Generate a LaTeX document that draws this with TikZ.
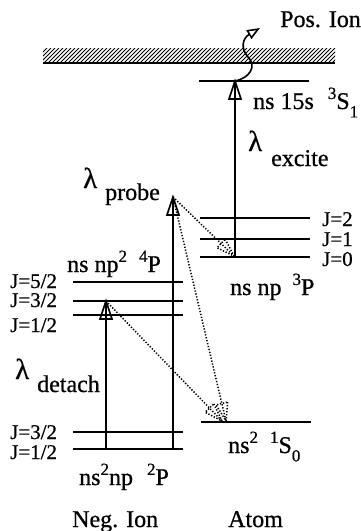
\documentclass[tikz,border=0pt]{standalone}
\usepackage{fontspec}
\setmainfont{Liberation Serif}
\newfontfamily\hv{Liberation Serif}[FakeBold=0.7]
\usetikzlibrary{calc,arrows.meta}
\newcommand\fsz{\hv\fontsize{24}{28}\selectfont}
\newcommand\jsz{\hv\fontsize{21}{24}\selectfont}
\newcommand\lamfont{\hv\fontsize{29}{30}\selectfont}
\newcommand\sups[1]{\raisebox{0.42em}{\fontsize{17}{17}\selectfont #1}}
\newcommand\subs[1]{\raisebox{-0.35em}{\fontsize{17}{17}\selectfont #1}}
\newcommand\opentri[3][]{\draw[#1] ($(#3)!18pt!(#2)!6pt!90:(#3)$) -- (#3) -- ($(#3)!18pt!(#2)!6pt!-90:(#3)$) -- cycle;}
\begin{document}
\begin{tikzpicture}[x=1pt,y=-1pt,
  level/.style={line width=1.7pt},
  trans/.style={line width=1.6pt},
  dots/.style={line width=1.5pt, dash pattern=on 1.3pt off 1.7pt},
  lbl/.style={anchor=base west, inner sep=0pt, font=\fsz},
  jl/.style={anchor=base west, inner sep=0pt, font=\jsz},
  lam/.style={anchor=base west, inner sep=0pt, font=\lamfont}]
\useasboundingbox (0,0) rectangle (361,531);

% continuum (hatched)
\begin{scope}
  \clip (43,48) rectangle (335,63);
  \foreach \i in {0,4,...,320} \draw[line width=0.9pt] (28+\i,63) -- (43+\i,48);
\end{scope}
\draw[line width=2.2pt] (43,63) -- (335,63);

% atom levels
\draw[level] (199,81) -- (309,81);
\draw[level] (200,218) -- (310,218);
\draw[level] (200,239) -- (310,239);
\draw[level] (200,257) -- (310,257);
\draw[level] (201,422) -- (311,422);

% negative ion levels
\draw[level] (73,282) -- (183,282);
\draw[level] (73,301) -- (183,301);
\draw[level] (73,315) -- (183,315);
\draw[level] (73,432) -- (183,432);
\draw[level] (73,449) -- (183,449);

% coordinates of transitions
\coordinate (exB) at (235,257);
\coordinate (exT) at (235,81);
\coordinate (wv)  at (260,28);
\coordinate (prB) at (173,449);
\coordinate (prT) at (173,197);
\coordinate (deB) at (106,449);
\coordinate (deT) at (106,301);
\coordinate (a3P) at (234,256);
\coordinate (aGa) at (226,421);
\coordinate (aGb) at (222,421);

% solid transitions
\draw[trans] (exB) -- (exT); \opentri[trans]{exB}{exT}
\draw[trans] (prB) -- (prT); \opentri[trans]{prB}{prT}
\draw[trans] (deB) -- (deT); \opentri[trans]{deB}{deT}
\draw[trans, -{Triangle[open,length=13pt,width=10pt]}] (exT) .. controls (250,78) and (257,66) .. (248,57) .. controls (240,48) and (243,38) .. (wv);

% dotted decays
\draw[dots] (prT) -- (a3P); \opentri[dots]{prT}{a3P}
\draw[dots] (prT) -- (aGa); \opentri[dots]{prT}{aGa}
\draw[dots] (deT) -- (aGb); \opentri[dots]{deT}{aGb}

% labels
\node[lbl] (pos) at (280,27) {Pos. Ion};
\node[lbl] (l15s) at (253,109) {ns 15s\hspace{14pt}\sups{3}S\subs{1}};
\node[lam] (lamE) at (248,151) {λ};
\node[lbl] (exc) at (271,166) {excite};
\node[jl] (j2) at (322,226) {J=2};
\node[jl] (j1) at (322,246) {J=1};
\node[jl] (j0) at (322,266) {J=0};
\node[lbl] (l3P) at (230,295) {ns np\hspace{11pt}\sups{3}P};
\node[lbl] (l1S) at (228,453) {ns\sups{2}\hspace{12pt}\sups{1}S\subs{0}};
\node[lbl] (atom) at (228,527) {Atom};

\node[lam] (lamP) at (83,188) {λ};
\node[lbl] (prb) at (105,200) {probe};
\node[lbl] (l4P) at (67,272) {ns np\sups{2}\hspace{12pt}\sups{4}P};
\node[jl] (j52) at (10,288) {J=5/2};
\node[jl] (j32a) at (10,307) {J=3/2};
\node[jl] (j12a) at (10,332) {J=1/2};
\node[lam] (lamD) at (15,379) {λ};
\node[lbl] (det) at (37,392) {detach};
\node[jl] (j32b) at (10,439) {J=3/2};
\node[jl] (j12b) at (10,459) {J=1/2};
\node[lbl] (l2P) at (79,485) {ns\sups{2}np\hspace{14pt}\sups{2}P};
\node[lbl] (neg) at (72,527) {Neg. Ion};
\end{tikzpicture}
\end{document}
